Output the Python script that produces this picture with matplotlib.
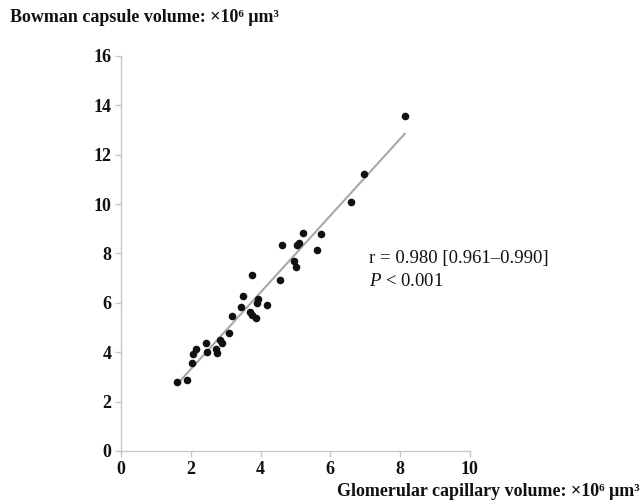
import numpy as np
import matplotlib
matplotlib.use("Agg")
import matplotlib.pyplot as plt

plt.rcParams['font.family'] = ['Liberation Serif', 'DejaVu Serif']
plt.rcParams['mathtext.fontset'] = 'custom'
plt.rcParams['mathtext.it'] = 'Liberation Serif:italic'
plt.rcParams['mathtext.rm'] = 'Liberation Serif'

glomerular_volume = [1.60, 1.89, 2.03, 2.06, 2.15, 2.43, 2.46, 2.72, 2.75, 2.83, 2.89,
                     3.09, 3.18, 3.43, 3.49, 3.69, 3.75, 3.86, 3.89, 3.92, 4.18, 3.75,
                     4.55, 4.95, 5.01, 4.61, 5.04, 5.09, 5.21, 5.72, 5.61, 6.58, 6.95, 8.13]
bowman_volume = [2.79, 2.88, 3.56, 3.93, 4.13, 4.37, 4.01, 4.13, 3.97, 4.50, 4.37,
                 4.78, 5.47, 5.83, 6.28, 5.63, 5.51, 5.39, 5.99, 6.16, 5.91, 7.13,
                 6.93, 7.70, 7.45, 8.34, 8.34, 8.42, 8.83, 8.79, 8.14, 10.08, 11.22, 13.57]
x_ticks = [0, 2, 4, 6, 8, 10]
y_ticks = [0, 2, 4, 6, 8, 10, 12, 14, 16]
y_label = "Bowman capsule volume: ×10⁶ μm³"
x_label = "Glomerular capillary volume: ×10⁶ μm³"
stat_r = "r = 0.980 [0.961–0.990]"

fig = plt.figure(figsize=(6.42, 5.03), dpi=100)
ax = fig.add_axes([0.1885, 0.1034, 0.5435, 0.7853])

x = np.array(glomerular_volume)
y = np.array(bowman_volume)
slope, intercept = np.polyfit(x, y, 1)
xl = np.array([x.min(), x.max()])
ax.plot(xl, slope * xl + intercept, color='#a8a8a8', lw=1.5, zorder=1)
ax.scatter(x, y, s=30, color='#111111', zorder=2, linewidths=0)

ax.set_xlim(0, 10)
ax.set_ylim(0, 16)
ax.set_xticks(x_ticks)
ax.set_yticks(y_ticks)
for s in ['top', 'right']:
    ax.spines[s].set_visible(False)
for s in ['left', 'bottom']:
    ax.spines[s].set_color('#c8c8c8')
    ax.spines[s].set_linewidth(1.0)
ax.tick_params(axis='both', direction='out', length=4, width=1.0, color='#c8c8c8',
               labelsize=13, labelcolor='#111111', pad=3)
for lab in ax.get_xticklabels() + ax.get_yticklabels():
    lab.set_fontweight('bold')

fig.text(10 / 642, 1 - 18 / 503, y_label, ha='left', va='center', fontsize=13,
         fontweight='bold', color='#111111')
fig.text(640 / 642, 1 - 492 / 503, x_label, ha='right', va='center', fontsize=13,
         fontweight='bold', color='#111111')

fig.text(369 / 642, 1 - 259 / 503, stat_r, ha='left', va='center', fontsize=13.5,
         color='#111111')
fig.text(369 / 642, 1 - 281 / 503, "$\\mathit{P}$ < 0.001", ha='left', va='center',
         fontsize=13.5, color='#111111')

fig.savefig("out.png", dpi=100)
